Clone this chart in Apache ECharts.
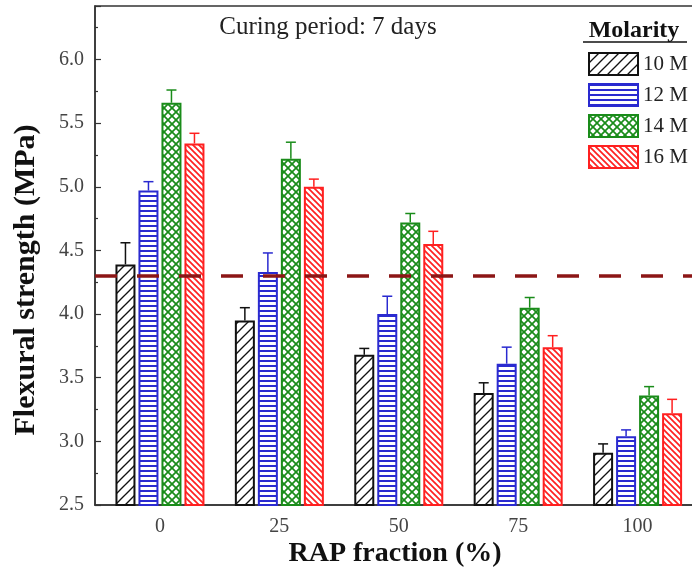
<!DOCTYPE html>
<html><head><meta charset="utf-8">
<script src="https://cdn.jsdelivr.net/npm/echarts@6/dist/echarts.min.js"></script>
<style>html,body{margin:0;padding:0;background:#fff;overflow:hidden;width:692px;height:573px}#c{width:760px;height:573px}</style>
</head><body><div id="c"></div>
<script>
// ---- data ----
const categories = [0, 25, 50, 75, 100];
const seriesNames = ['10 M', '12 M', '14 M', '16 M'];
const m10 = [4.39, 3.95, 3.68, 3.38, 2.91];
const m10Err = [0.17, 0.10, 0.05, 0.08, 0.07];
const m12 = [4.97, 4.33, 4.00, 3.61, 3.04];
const m12Err = [0.07, 0.15, 0.14, 0.13, 0.05];
const m14 = [5.66, 5.22, 4.72, 4.05, 3.36];
const m14Err = [0.10, 0.13, 0.07, 0.08, 0.07];
const m16 = [5.34, 5.00, 4.55, 3.74, 3.22];
const m16Err = [0.08, 0.06, 0.10, 0.09, 0.11];
const threshold = 4.3;
const yMin = 2.5, yMax = 6.42, yStep = 0.5;
const xMin = -13.6, xMax = 125;

const values = [m10, m12, m14, m16];
const errors = [m10Err, m12Err, m14Err, m16Err];
const colors = ['#111111', '#2a2ad0', '#1a8c1a', '#ff2020'];
const SERIF = '"Liberation Serif", "DejaVu Serif", serif';

function makePattern(kind, color) {
  const c = document.createElement('canvas');
  let w = 8, h = 8;
  if (kind === 'fwd') { w = h = 10; }
  if (kind === 'back') { w = h = 6; }
  if (kind === 'horiz') { w = 4; h = 5; }
  if (kind === 'cross') { w = h = 8; }
  c.width = w; c.height = h;
  const ctx = c.getContext('2d');
  ctx.fillStyle = '#fff'; ctx.fillRect(0, 0, w, h);
  ctx.strokeStyle = color; ctx.fillStyle = color;
  const line = (a, b, cc, d) => { ctx.beginPath(); ctx.moveTo(a, b); ctx.lineTo(cc, d); ctx.stroke(); };
  if (kind === 'fwd') {
    ctx.lineWidth = 1.3;
    line(-1, w + 1, w + 1, -1); line(-2, 2, 2, -2); line(w - 2, h + 2, w + 2, h - 2);
  } else if (kind === 'back') {
    ctx.lineWidth = 1.7;
    line(-1, -1, w + 1, h + 1); line(-2, h - 2, 2, h + 2); line(w - 2, -2, w + 2, 2);
  } else if (kind === 'horiz') {
    ctx.fillRect(0, 0, w, 2);
  } else if (kind === 'cross') {
    ctx.lineWidth = 1.7;
    line(-1, -1, w + 1, h + 1); line(-1, h + 1, w + 1, -1);
    line(-2, h - 2, 2, h + 2); line(w - 2, -2, w + 2, 2);
    line(-2, 2, 2, -2); line(w - 2, h + 2, w + 2, h - 2);
  }
  return { image: c, repeat: 'repeat' };
}
const patterns = [
  makePattern('fwd', colors[0]),
  makePattern('horiz', colors[1]),
  makePattern('cross', colors[2]),
  makePattern('back', colors[3])
];

const BAR_W = 20, STEP = 23;

const series = [];
values.forEach((vals, s) => {
  series.push({
    type: 'bar', name: seriesNames[s],
    data: categories.map((x, i) => [x, vals[i]]),
    barWidth: BAR_W, barGap: '15%',
    itemStyle: { color: patterns[s], borderColor: colors[s], borderWidth: 2 },
    z: 2
  });
});
values.forEach((vals, s) => {
  const off = (s - 1.5) * STEP;
  series.push({
    type: 'custom', name: 'err ' + seriesNames[s],
    data: categories.map((x, i) => [x, vals[i], vals[i] + errors[s][i]]),
    z: 3,
    renderItem: (params, api) => {
      const x = api.value(0);
      const p0 = api.coord([x, api.value(1)]);
      const p1 = api.coord([x, api.value(2)]);
      const cx = p0[0] + off;
      const st = { stroke: colors[s], lineWidth: 1.5 };
      return { type: 'group', children: [
        { type: 'line', shape: { x1: cx, y1: p0[1], x2: cx, y2: p1[1] }, style: st },
        { type: 'line', shape: { x1: cx - 5, y1: p1[1], x2: cx + 5, y2: p1[1] }, style: st }
      ]};
    }
  });
});
series.push({
  type: 'line', name: 'threshold', data: [], z: 10,
  markLine: {
    silent: true, symbol: 'none', label: { show: false },
    lineStyle: { color: '#8c1616', width: 3.5, type: [22, 20] },
    data: [{ yAxis: threshold }]
  }
});

const chart = echarts.init(document.getElementById('c'));
chart.setOption({
  animation: false,
  backgroundColor: '#fff',
  grid: { left: 95, top: 6, right: 3, bottom: 68, show: true, borderColor: '#333', borderWidth: 1.5, containLabel: false },
  xAxis: {
    type: 'value', min: xMin, max: xMax,
    axisLine: { show: true, onZero: false, lineStyle: { color: '#333', width: 1.5 } },
    axisTick: { show: false },
    splitLine: { show: false },
    axisLabel: { customValues: categories, fontFamily: SERIF, fontSize: 20, color: '#444', margin: 12 }
  },
  yAxis: {
    type: 'value', min: yMin, max: yMax, interval: yStep,
    axisLine: { show: true, onZero: false, lineStyle: { color: '#333', width: 1.5 } },
    axisTick: { show: true, inside: true, length: 6, lineStyle: { color: '#333', width: 1.2 } },
    minorTick: { show: true, splitNumber: 2, length: 3, lineStyle: { color: '#333', width: 1.2 } },
    splitLine: { show: false },
    axisLabel: { showMaxLabel: false, fontFamily: SERIF, fontSize: 20, color: '#444', margin: 11,
      formatter: v => v.toFixed(1) }
  },
  legend: {
    data: seriesNames, orient: 'vertical', left: 583, top: 47,
    itemWidth: 49, itemHeight: 22, itemGap: 7, icon: 'rect',
    textStyle: { fontFamily: SERIF, fontSize: 21, color: '#222', padding: [0, 0, 0, 0] }
  },
  graphic: [
    { type: 'text', x: 328, y: 27, style: { text: 'Curing period: 7 days', font: '25px ' + SERIF, fill: '#222', align: 'center', verticalAlign: 'middle' } },
    { type: 'text', x: 634, y: 31, style: { text: 'Molarity', font: 'bold 24px ' + SERIF, fill: '#111', align: 'center', verticalAlign: 'middle' } },
    { type: 'line', shape: { x1: 583, y1: 42, x2: 687, y2: 42 }, style: { stroke: '#111', lineWidth: 1.5 } },
    { type: 'text', x: 395, y: 554, style: { text: 'RAP fraction (%)', font: 'bold 28px ' + SERIF, fill: '#111', align: 'center', verticalAlign: 'middle' } },
    { type: 'text', x: 26, y: 280, rotation: Math.PI / 2, style: { text: 'Flexural strength (MPa)', font: 'bold 30px ' + SERIF, fill: '#111', align: 'center', verticalAlign: 'middle' } }
  ],
  series: series
});
</script>
</body></html>
